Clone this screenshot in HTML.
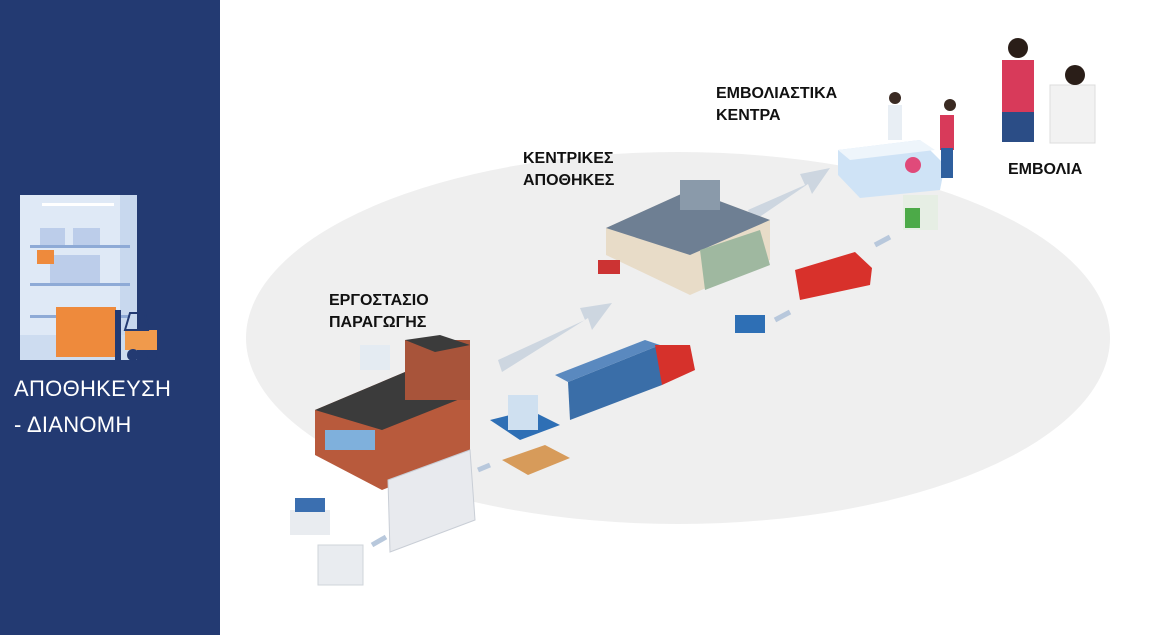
<!DOCTYPE html>
<html><head><meta charset="utf-8"><style>
body{margin:0;width:1159px;height:635px;overflow:hidden;background:#fff;font-family:"Liberation Sans",sans-serif;position:relative}
.left{position:absolute;left:0;top:0;width:220px;height:635px;background:#233a72}
.lt{position:absolute;left:14px;color:#fff;font-size:22px;letter-spacing:0.3px}
.lbl{position:absolute;font-weight:bold;font-size:16px;color:#111;line-height:22px}
</style></head><body>
<div class="left">
<svg style="position:absolute;left:20px;top:195px" width="140" height="166">
<rect x="0" y="0" width="117" height="165" fill="#dfe9f6"/>
<rect x="100" y="0" width="17" height="165" fill="#c8d8ee"/>
<rect x="0" y="140" width="117" height="25" fill="#cddcf0"/>
<rect x="22" y="8" width="72" height="3" fill="#fff"/>
<rect x="10" y="50" width="100" height="3" fill="#8eaad6"/><rect x="10" y="88" width="100" height="3" fill="#8eaad6"/><rect x="10" y="120" width="100" height="3" fill="#8eaad6"/>
<rect x="20" y="33" width="25" height="17" fill="#bccdea"/><rect x="53" y="33" width="27" height="17" fill="#bccdea"/>
<rect x="30" y="60" width="50" height="28" fill="#bccdea"/>
<rect x="17" y="55" width="17" height="14" fill="#ee8a3c"/>
<rect x="36" y="112" width="60" height="50" fill="#ee8a3c"/>
<rect x="95" y="115" width="6" height="50" fill="#233a72"/>
<rect x="105" y="135" width="32" height="20" fill="#f09a4c"/>
<polygon points="105,135 110,118 125,118 128,135" fill="none" stroke="#233a72" stroke-width="2"/>
<circle cx="113" cy="160" r="6" fill="#233a72"/><circle cx="132" cy="160" r="5" fill="#233a72"/>
</svg>
<div class="lt" style="top:376px">ΑΠΟΘΗΚΕΥΣΗ</div>
<div class="lt" style="top:412px">- ΔΙΑΝΟΜΗ</div>
</div>
<svg style="position:absolute;left:0;top:0" width="1159" height="635">
<ellipse cx="678" cy="338" rx="432" ry="186" fill="#efefef"/>
<polygon points="498,360 585,320 580,308 612,303 592,330 588,318 502,372" fill="#cdd6e0"/>
<polygon points="748,210 805,185 800,174 830,168 812,194 808,184 752,222" fill="#cdd6e0"/>
<polygon points="315,410 405,372 470,395 470,455 382,490 315,455" fill="#b85a3c"/>
<polygon points="315,410 405,372 470,395 382,430" fill="#3b3b3b"/>
<rect x="405" y="340" width="65" height="60" fill="#a8543a"/>
<polygon points="405,340 440,335 470,345 435,352" fill="#3b3b3b"/>
<rect x="325" y="430" width="50" height="20" fill="#7fb0dc"/>
<rect x="360" y="345" width="30" height="25" fill="#e4ebf2"/>
<polygon points="388,480 470,450 475,520 390,552" fill="#e8eaee" stroke="#c9ced6"/>
<rect x="290" y="510" width="40" height="25" fill="#e9ecf0"/><rect x="295" y="498" width="30" height="14" fill="#3b6fb0"/>
<rect x="318" y="545" width="45" height="40" fill="#e9ecf0" stroke="#cfd4da"/>
<polygon points="490,420 530,410 560,425 520,440" fill="#2e6fb5"/>
<rect x="508" y="395" width="30" height="35" fill="#cfe0f0"/>
<polygon points="502,460 545,445 570,458 528,475" fill="#d79b5a"/>
<polygon points="568,382 660,345 662,385 570,420" fill="#3a6ea8"/>
<polygon points="568,382 660,345 645,340 555,375" fill="#5a89bf"/>
<polygon points="655,345 690,345 695,370 662,385" fill="#d6312b"/>
<polygon points="606,228 690,190 770,220 770,260 690,295 606,255" fill="#e8dcc8"/>
<polygon points="606,228 690,190 770,220 690,255" fill="#6e7f93"/>
<rect x="680" y="180" width="40" height="30" fill="#8a9aaa"/>
<polygon points="700,250 760,230 770,265 705,290" fill="#9fb8a0"/>
<rect x="598" y="260" width="22" height="14" fill="#c33"/>
<rect x="735" y="315" width="30" height="18" fill="#2e6fb5"/>
<polygon points="795,270 855,252 872,268 870,285 800,300" fill="#d8312b"/>
<rect x="903" y="195" width="35" height="35" fill="#e6eee4"/><rect x="905" y="208" width="15" height="20" fill="#4caa48"/>
<polygon points="838,150 920,140 945,165 940,190 860,198 838,175" fill="#cfe3f6"/>
<polygon points="838,150 920,140 935,150 850,160" fill="#eef5fb"/>
<circle cx="913" cy="165" r="8" fill="#e04a7a"/>
<rect x="888" y="105" width="14" height="35" fill="#e8eef4"/><circle cx="895" cy="98" r="6" fill="#3a2a22"/>
<rect x="940" y="115" width="14" height="35" fill="#d83a5a"/><circle cx="950" cy="105" r="6" fill="#3a2a22"/>
<rect x="941" y="148" width="12" height="30" fill="#2e5f9e"/>
<rect x="1002" y="60" width="32" height="55" fill="#d83a5a"/><rect x="1002" y="112" width="32" height="30" fill="#2b4d86"/>
<circle cx="1018" cy="48" r="10" fill="#2a1e18"/>
<rect x="1050" y="85" width="45" height="58" fill="#f2f2f2" stroke="#ddd"/>
<circle cx="1075" cy="75" r="10" fill="#2a1e18"/>
<path d="M478 470 l12 -5" stroke="#b8c8dc" stroke-width="5"/>
<path d="M372 545 l14 -8" stroke="#b8c8dc" stroke-width="5"/>
<path d="M775 320 l15 -8" stroke="#b8c8dc" stroke-width="5"/>
<path d="M875 245 l15 -8" stroke="#b8c8dc" stroke-width="5"/>
</svg>
<div class="lbl" style="left:329px;top:290px">ΕΡΓΟΣΤΑΣΙΟ<br>ΠΑΡΑΓΩΓΗΣ</div>
<div class="lbl" style="left:523px;top:148px">ΚΕΝΤΡΙΚΕΣ<br>ΑΠΟΘΗΚΕΣ</div>
<div class="lbl" style="left:716px;top:83px">ΕΜΒΟΛΙΑΣΤΙΚΑ<br>ΚΕΝΤΡΑ</div>
<div class="lbl" style="left:1008px;top:159px">ΕΜΒΟΛΙΑ</div>
</body></html>
